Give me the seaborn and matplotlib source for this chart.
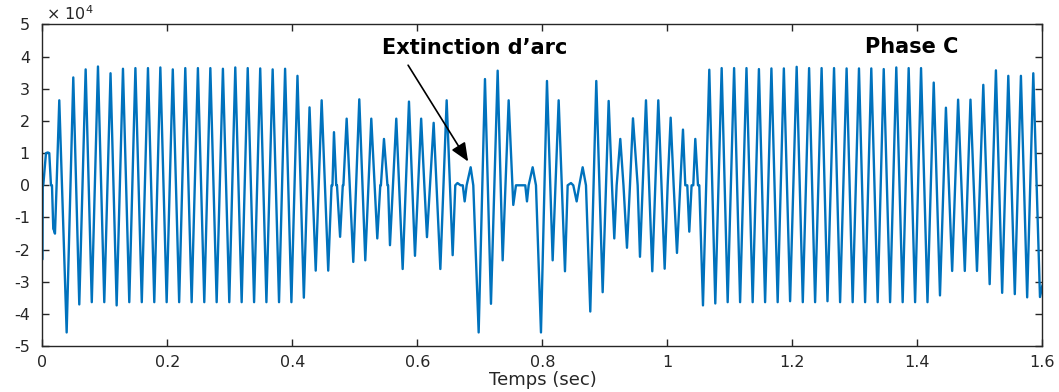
import matplotlib
matplotlib.use("Agg")
import matplotlib.pyplot as plt
import seaborn as sns
import pandas as pd

# Key points of the Phase C signal (time in s, value in units of 1e4)
t_pts = [
    0.0000, 0.0004, 0.0013, 0.0056, 0.0085, 0.0109, 0.0136, 0.0152, 0.0173, 0.0185,
    0.0200, 0.0226, 0.0269, 0.0387, 0.0493, 0.0589, 0.0691, 0.0789, 0.0888, 0.0989,
    0.1089, 0.1187, 0.1288, 0.1389, 0.1487, 0.1589, 0.1688, 0.1789, 0.1886, 0.1987,
    0.2085, 0.2187, 0.2285, 0.2387, 0.2487, 0.2589, 0.2686, 0.2787, 0.2887, 0.2989,
    0.3085, 0.3187, 0.3284, 0.3386, 0.3484, 0.3583, 0.3683, 0.3785, 0.3882, 0.3983,
    0.4080, 0.4182, 0.4273, 0.4372, 0.4467, 0.4572, 0.4625, 0.4640, 0.4664, 0.4700,
    0.4712, 0.4762, 0.4805, 0.4815, 0.4867, 0.4973, 0.5069, 0.5120, 0.5165, 0.5261,
    0.5315, 0.5357, 0.5405, 0.5415, 0.5464, 0.5520, 0.5530, 0.5560, 0.5661, 0.5763,
    0.5864, 0.5960, 0.6059, 0.6110, 0.6152, 0.6259, 0.6366, 0.6467, 0.6520, 0.6563,
    0.6605, 0.6640, 0.6690, 0.6725, 0.6755, 0.6787, 0.6851, 0.6893, 0.6979, 0.7080,
    0.7176, 0.7283, 0.7363, 0.7459, 0.7533, 0.7576, 0.7725, 0.7752, 0.7779, 0.7843,
    0.7896, 0.7976, 0.8072, 0.8163, 0.8259, 0.8360, 0.8403, 0.8456, 0.8493, 0.8547,
    0.8589, 0.8643, 0.8696, 0.8765, 0.8861, 0.8963, 0.9059, 0.9112, 0.9149, 0.9187,
    0.9245, 0.9296, 0.9352, 0.9400, 0.9448, 0.9523, 0.9560, 0.9656, 0.9757, 0.9853,
    0.9955, 1.0003, 1.0051, 1.0099, 1.0152, 1.0205, 1.0248, 1.0285, 1.0317, 1.0349,
    1.0386, 1.0413, 1.0445, 1.0488, 1.0509, 1.0568, 1.0669, 1.0765, 1.0867, 1.0963,
    1.1066, 1.1162, 1.1264, 1.1363, 1.1463, 1.1562, 1.1663, 1.1763, 1.1862, 1.1962,
    1.2067, 1.2165, 1.2266, 1.2362, 1.2466, 1.2560, 1.2665, 1.2762, 1.2866, 1.2963,
    1.3064, 1.3162, 1.3261, 1.3363, 1.3460, 1.3562, 1.3661, 1.3763, 1.3859, 1.3962,
    1.4057, 1.4160, 1.4260, 1.4360, 1.4455, 1.4555, 1.4650, 1.4757, 1.4848, 1.4952,
    1.5053, 1.5155, 1.5255, 1.5355, 1.5453, 1.5557, 1.5655, 1.5755, 1.5853, 1.5960,
    1.6000,
]
v_pts = [
    -2.30, 0.00, 0.00, 1.00, 1.02, 1.00, 0.00, 0.00, -1.35, -1.40,
    -1.50, 0.00, 2.64, -4.57, 3.35, -3.70, 3.60, -3.63, 3.69, -3.63,
    3.48, -3.73, 3.62, -3.63, 3.64, -3.63, 3.64, -3.63, 3.66, -3.63,
    3.60, -3.63, 3.64, -3.63, 3.64, -3.63, 3.64, -3.63, 3.62, -3.63,
    3.66, -3.63, 3.64, -3.63, 3.63, -3.63, 3.60, -3.63, 3.62, -3.63,
    3.40, -3.49, 2.42, -2.65, 2.64, -2.65, 0.00, 0.00, 1.65, 0.00,
    0.00, -1.60, 0.00, 0.00, 2.07, -2.38, 2.67, 0.00, -2.33, 2.07,
    0.00, -1.65, 0.00, 0.00, 1.44, 0.00, 0.00, -1.86, 2.07, -2.60,
    2.60, -2.19, 2.07, 0.00, -1.61, 1.94, -2.60, 2.64, 0.00, -2.17,
    0.00, 0.07, 0.00, 0.00, -0.50, 0.00, 0.56, 0.00, -4.57, 3.30,
    -3.68, 3.56, -2.33, 2.64, -0.61, 0.00, 0.00, -0.50, 0.00, 0.56,
    0.00, -4.57, 3.24, -2.33, 2.64, -2.67, 0.00, 0.07, 0.00, -0.50,
    0.00, 0.56, 0.00, -3.92, 3.24, -3.32, 2.62, 0.00, -1.65, 0.00,
    1.44, 0.00, -1.94, 0.00, 2.08, 0.00, -2.22, 2.64, -2.67, 2.64,
    -2.59, 0.00, 2.10, 0.00, -2.10, 0.00, 1.73, 0.00, 0.00, -1.44,
    0.00, 0.00, 1.44, 0.00, 0.00, -3.73, 3.59, -3.67, 3.64, -3.63,
    3.64, -3.63, 3.64, -3.63, 3.61, -3.63, 3.63, -3.63, 3.63, -3.60,
    3.68, -3.63, 3.64, -3.63, 3.64, -3.60, 3.64, -3.63, 3.63, -3.63,
    3.63, -3.63, 3.63, -3.63, 3.61, -3.63, 3.66, -3.63, 3.64, -3.63,
    3.64, -3.63, 3.19, -3.42, 2.41, -2.66, 2.66, -2.66, 2.66, -2.66,
    3.12, -3.07, 3.57, -3.34, 3.40, -3.38, 3.40, -3.48, 3.48, -3.47,
    -3.10,
]

x_ticks = [0, 0.2, 0.4, 0.6, 0.8, 1.0, 1.2, 1.4, 1.6]
x_tick_labels = ["0", "0.2", "0.4", "0.6", "0.8", "1", "1.2", "1.4", "1.6"]
y_ticks = [-5, -4, -3, -2, -1, 0, 1, 2, 3, 4, 5]
y_tick_labels = ["-5", "-4", "-3", "-2", "-1", "0", "1", "2", "3", "4", "5"]

sns.set_theme(style="white")
plt.rcParams["font.family"] = ["DejaVu Sans"]
plt.rcParams["axes.unicode_minus"] = False

df = pd.DataFrame({"t": t_pts, "v": v_pts})

fig = plt.figure(figsize=(10.59, 3.92), dpi=100)
ax = fig.add_axes([0.0401, 0.1166, 0.9443, 0.8214])

sns.lineplot(data=df, x="t", y="v", ax=ax, color="#0072BD", linewidth=1.7,
             estimator=None, sort=False)

ax.set_xlim(0, 1.6)
ax.set_ylim(-5, 5)
ax.set_xticks(x_ticks)
ax.set_xticklabels(x_tick_labels)
ax.set_yticks(y_ticks)
ax.set_yticklabels(y_tick_labels)

for s in ax.spines.values():
    s.set_visible(True)
    s.set_color("#262626")
    s.set_linewidth(1.0)

ax.tick_params(axis="both", direction="in", length=5, width=1.0, color="#262626",
               labelsize=11.5, labelcolor="#262626", top=True, right=True,
               bottom=True, left=True)
ax.tick_params(axis="x", pad=6)
ax.tick_params(axis="y", pad=9)

ax.set_xlabel("Temps (sec)", fontsize=13, color="#262626", labelpad=1)
ax.set_ylabel("")

ax.text(0.004, 1.005, "× 10$^{4}$", transform=ax.transAxes, fontsize=11.5,
        color="#262626", ha="left", va="bottom")

ax.text(0.692, 4.27, "Extinction d’arc", fontsize=15, fontweight="bold",
        ha="center", va="center", color="black")
ax.text(1.39, 4.3, "Phase C", fontsize=15, fontweight="bold",
        ha="center", va="center", color="black")

ax.annotate("", xy=(0.681, 0.74), xytext=(0.585, 3.73),
            arrowprops=dict(arrowstyle="-|>,head_length=0.7,head_width=0.3",
                            color="black", lw=1.2, mutation_scale=16,
                            shrinkA=0, shrinkB=0))

fig.savefig("out.png", dpi=100)
